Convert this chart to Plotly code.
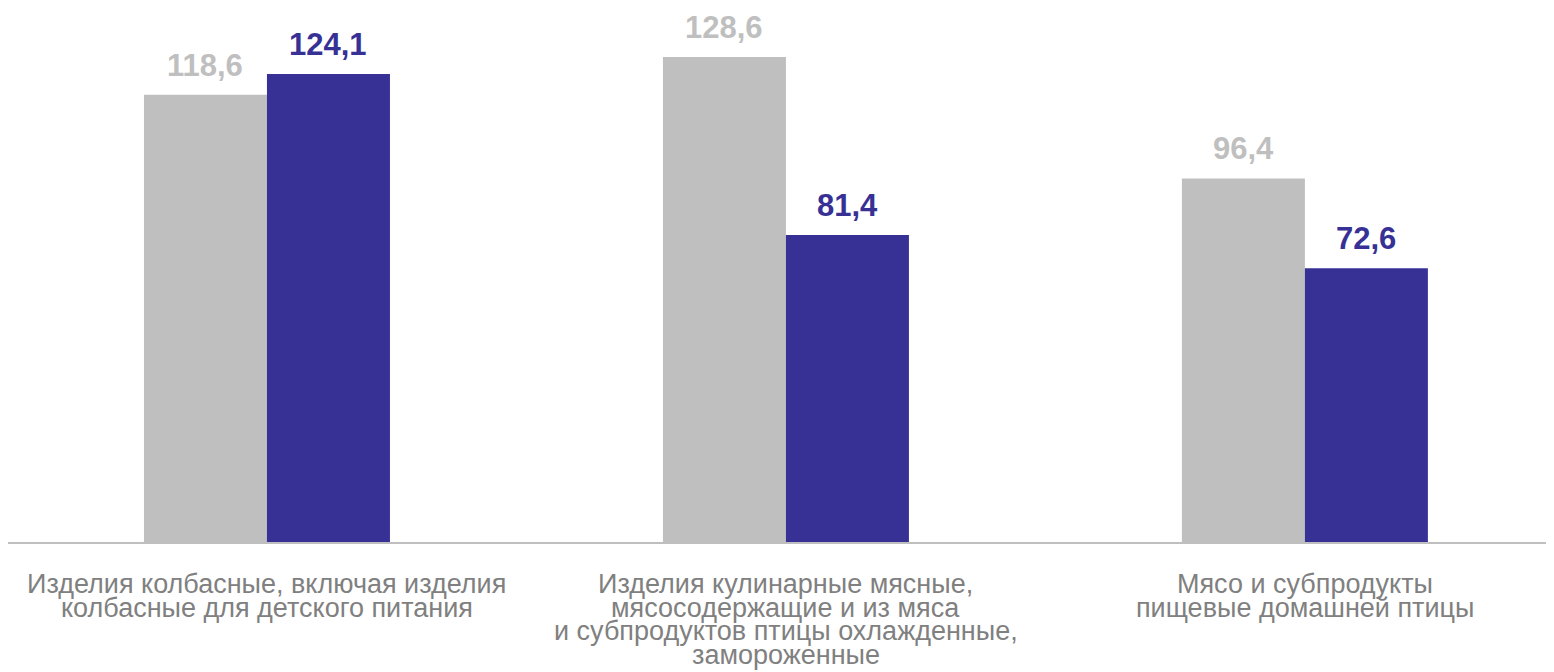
import plotly.graph_objects as go

categories = [
    ["Изделия колбасные, включая изделия", "колбасные для детского питания"],
    ["Изделия кулинарные мясные,", "мясосодержащие и из мяса", "и субпродуктов птицы охлажденные,", "замороженные"],
    ["Мясо и субпродукты", "пищевые домашней птицы"],
]
series_prev = [118.6, 128.6, 96.4]
series_curr = [124.1, 81.4, 72.6]
value_labels_prev = ["118,6", "128,6", "96,4"]
value_labels_curr = ["124,1", "81,4", "72,6"]

GRAY = "#BFBFBF"
NAVY = "#373195"
LABEL = "#808080"
FONT = "Liberation Sans, Arial, sans-serif"

xs = list(range(len(categories)))

fig = go.Figure()
fig.add_trace(go.Bar(x=xs, y=series_prev, marker_color=GRAY, marker_line_width=0, hoverinfo="skip"))
fig.add_trace(go.Bar(x=xs, y=series_curr, marker_color=NAVY, marker_line_width=0, hoverinfo="skip"))

annotations = []
for i in xs:
    for val, lab, col, sh in ((series_prev[i], value_labels_prev[i], GRAY, -61.5),
                              (series_curr[i], value_labels_curr[i], NAVY, 61.5)):
        annotations.append(dict(x=i, y=val, xref="x", yref="y", text="<b>%s</b>" % lab,
                                showarrow=False, xshift=sh, yshift=29.5, yanchor="middle",
                                font=dict(family=FONT, size=31, color=col)))
    for j, line in enumerate(categories[i]):
        annotations.append(dict(x=i, y=0, xref="x", yref="paper", text=line, showarrow=False,
                                yanchor="middle", yshift=-42 - 23.5 * j,
                                font=dict(family=FONT, size=27, color=LABEL)))

fig.update_layout(
    width=1546, height=664,
    margin=dict(l=0, r=0, t=0, b=130),
    paper_bgcolor="white", plot_bgcolor="white",
    barmode="group", bargap=0.526, bargroupgap=0,
    showlegend=False,
    annotations=annotations,
    xaxis=dict(range=[-0.499, 2.48], showticklabels=False, ticks="", showgrid=False,
               zeroline=False, showline=True, linecolor=GRAY, linewidth=2, fixedrange=True),
    yaxis=dict(range=[0, 141.6], visible=False, showgrid=False, zeroline=False, fixedrange=True),
)

fig.write_html("out.html")
